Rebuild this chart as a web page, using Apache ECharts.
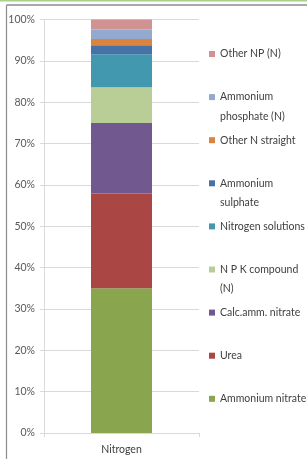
<!DOCTYPE html>
<html>
<head>
<meta charset="utf-8">
<script src="https://cdn.jsdelivr.net/npm/echarts@6/dist/echarts.min.js"></script>
<style>
html,body{margin:0;padding:0;background:#fff;}
#c{width:307px;height:459px;}
</style>
</head>
<body>
<div id="c"></div>
<script>
// ---- data ----
const categories = ['Nitrogen'];
const seriesNames = ['Ammonium nitrate','Urea','Calc.amm. nitrate','N P K compound (N)','Nitrogen solutions','Ammonium sulphate','Other N straight','Ammonium phosphate (N)','Other NP (N)'];
const ammoniumNitrate = [35.0];
const urea = [22.9];
const calcAmmNitrate = [17.1];
const npkCompound = [8.6];
const nitrogenSolutions = [8.0];
const ammoniumSulphate = [2.2];
const otherNStraight = [1.5];
const ammoniumPhosphate = [2.3];
const otherNP = [2.4];
const seriesValues = [ammoniumNitrate, urea, calcAmmNitrate, npkCompound, nitrogenSolutions, ammoniumSulphate, otherNStraight, ammoniumPhosphate, otherNP];
const legendLabels = {
  'Ammonium nitrate':'Ammonium nitrate',
  'Urea':'Urea',
  'Calc.amm. nitrate':'Calc.amm. nitrate',
  'N P K compound (N)':'N P K compound\n(N)',
  'Nitrogen solutions':'Nitrogen solutions',
  'Ammonium sulphate':'Ammonium\nsulphate',
  'Other N straight':'Other N straight',
  'Ammonium phosphate (N)':'Ammonium\nphosphate (N)',
  'Other NP (N)':'Other NP (N)'
};
const colors = ['#89A54E','#AA4643','#71588F','#B9CD96','#4198AF','#4572A7','#DB843D','#93A9CF','#D19392'];
const yTicks = [0,10,20,30,40,50,60,70,80,90,100];

// ---- chart ----
const FONT = 'Lato';
const LH = 19.5;
const chart = echarts.init(document.getElementById('c'), null, {renderer:'canvas'});

// legend (top item = last series), markers evenly spaced, marker on first text line
const legendTop0 = 54, legendStep = 43.1;
const legends = [];
const legendOrder = seriesNames.slice().reverse();
legendOrder.forEach((name, i) => {
  const label = legendLabels[name];
  const lines = label.split('\n').length;
  const cy = legendTop0 + legendStep * i;
  // two-line labels get a leading blank line so the first text line sits at the marker
  const shown = lines === 1 ? label : '\n' + label;
  const offset = lines === 1 ? LH / 2 : 1.5 * LH;
  legends.push({
    data: [name],
    left: 209,
    top: cy - offset,
    padding: 0,
    itemWidth: 6,
    itemHeight: 6,
    icon: 'rect',
    selectedMode: false,
    formatter: () => shown,
    textStyle: {fontFamily: FONT, fontSize: 10.5, color: '#404040', lineHeight: LH}
  });
});

const option = {
  animation: false,
  color: colors,
  grid: {left: 44, right: 108, top: 19.5, bottom: 26, containLabel: false},
  legend: legends,
  xAxis: {
    type: 'category',
    data: categories,
    axisLine: {show: true, lineStyle: {color: '#D9D9D9', width: 1}},
    axisTick: {show: true, length: 4, lineStyle: {color: '#D9D9D9'}},
    axisLabel: {fontFamily: FONT, fontSize: 10.5, color: '#404040', margin: 11}
  },
  yAxis: {
    type: 'value',
    min: yTicks[0], max: yTicks[yTicks.length-1], interval: 10,
    axisLine: {show: true, lineStyle: {color: '#D9D9D9', width: 1}},
    axisTick: {show: true, length: 4, lineStyle: {color: '#D9D9D9'}},
    splitLine: {show: true, lineStyle: {color: '#D9D9D9', width: 1}},
    axisLabel: {fontFamily: FONT, fontSize: 10.5, color: '#595959', margin: 9, formatter: '{value}%'}
  },
  series: seriesNames.map((name, i) => ({
    name: name,
    type: 'bar',
    stack: 'total',
    barWidth: 61,
    data: seriesValues[i]
  })),
  graphic: [
    {type: 'rect', shape: {x: 0, y: 0, width: 307, height: 1.5}, style: {fill: '#A9D18E'}, silent: true},
    {type: 'line', shape: {x1: 6.5, y1: 5, x2: 307, y2: 5}, style: {stroke: '#8C8C8C', lineWidth: 1.5}, silent: true},
    {type: 'line', shape: {x1: 6.5, y1: 5, x2: 6.5, y2: 459}, style: {stroke: '#8C8C8C', lineWidth: 1.2}, silent: true}
  ]
};
chart.setOption(option);
</script>
</body>
</html>
